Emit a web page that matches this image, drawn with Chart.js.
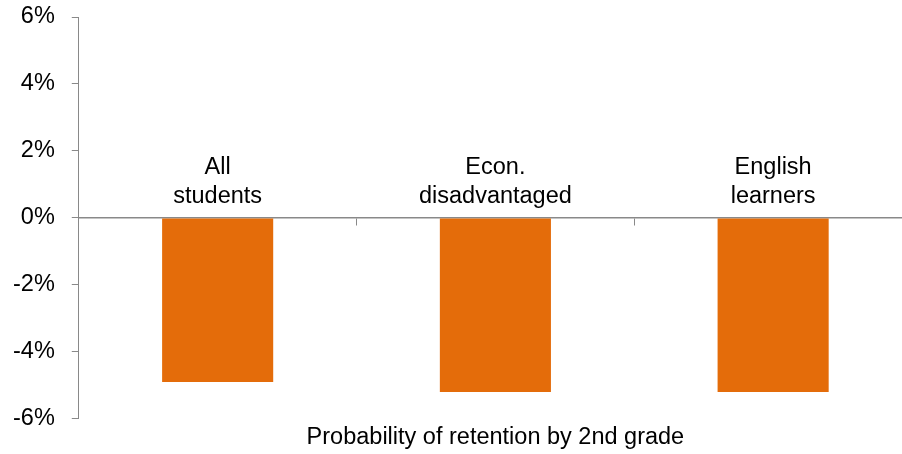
<!DOCTYPE html>
<html>
<head>
<meta charset="utf-8">
<title>Probability of retention by 2nd grade</title>
<script src="https://cdn.jsdelivr.net/npm/chart.js@4/dist/chart.umd.min.js"></script>
<style>
  html, body { margin: 0; padding: 0; overflow: hidden; background: #fff; }
  #wrap { width: 912px; height: 454px; }
</style>
</head>
<body>
<div id="wrap"><canvas id="chart" width="912" height="454"></canvas></div>
<script>
// groups shown along the zero line
const groups = [['All', 'students'], ['Econ.', 'disadvantaged'], ['English', 'learners']];
// change in probability of retention, percentage points
const retention = [-4.9, -5.2, -5.2];
// y axis range and tick step (%)
const yMin = -6;
const yMax = 6;
const yStep = 2;
const axisTitle = 'Probability of retention by 2nd grade';

const axisGray = '#898989';
const font = { family: "'Liberation Sans', Arial, sans-serif", size: 23.5 };

new Chart(document.getElementById('chart'), {
    type: 'bar',
    data: {
        labels: groups,
        datasets: [{
            data: retention,
            backgroundColor: '#E46C0A',
            categoryPercentage: 1,
            barPercentage: 0.4
        }]
    },
    options: {
        responsive: false,
        animation: false,
        layout: { padding: { left: -4, top: 17, right: 0, bottom: 0 } },
        plugins: { legend: { display: false }, tooltip: { enabled: false } },
        scales: {
            x: {
                position: { y: 0 },
                grid: { drawOnChartArea: false, offset: true, tickLength: 7, color: axisGray },
                border: { color: axisGray, width: 1.5 },
                ticks: { color: '#000', font: font, padding: -71, maxRotation: 0, autoSkip: false }
            },
            // bottom axis only carries the title
            xTitle: {
                type: 'category',
                position: 'bottom',
                grid: { display: false, drawTicks: false },
                border: { display: false },
                ticks: { display: false },
                title: { display: true, text: axisTitle, color: '#000', font: font, padding: { top: 5, bottom: 2 } }
            },
            y: {
                min: yMin,
                max: yMax,
                grid: { drawOnChartArea: false, tickLength: 7, color: axisGray },
                border: { color: axisGray, width: 1 },
                ticks: {
                    stepSize: yStep,
                    padding: 17,
                    color: '#000',
                    font: font,
                    callback: v => v + '%'
                },
                // tick padding would otherwise push the plot down from the top
                afterFit: scale => {
                    scale.paddingTop = 0;
                    scale.paddingBottom = 0;
                }
            }
        }
    }
});
</script>
</body>
</html>
